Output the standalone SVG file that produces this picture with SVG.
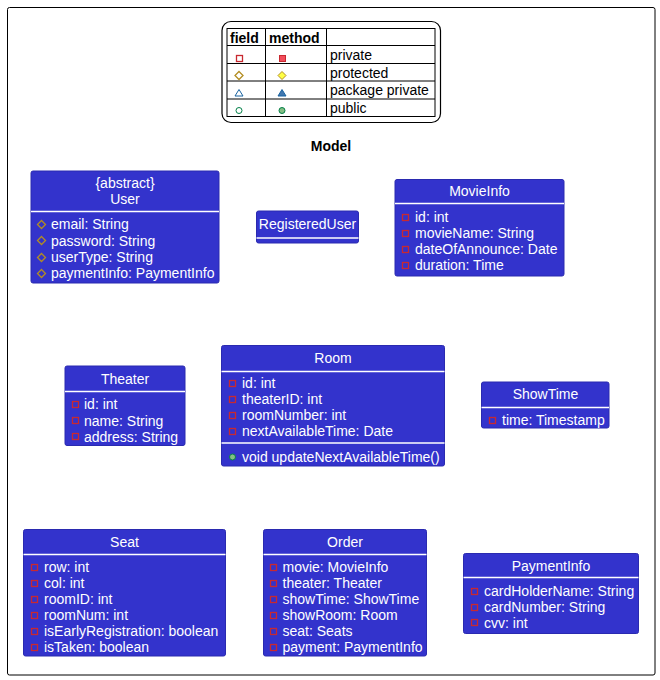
<svg xmlns="http://www.w3.org/2000/svg" width="660" height="680" viewBox="0 0 660 680">
<defs>
<style>
text{font-family:"Liberation Sans",Arial,sans-serif;font-size:14px}
.t{fill:#FFFFFF}
.c{text-anchor:middle}
.b{font-weight:bold}
.box{fill:#3333CC;stroke:#2A2AB0;stroke-width:1}
.sep{stroke:#FFFFFF;stroke-width:1.5}
.pf{fill:none;stroke:#C82930;stroke-width:1.3}
.pm{fill:#F24D5C;stroke:#C82930;stroke-width:1}
.df{fill:none;stroke:#B38D22;stroke-width:1.3}
.dm{fill:#FFFF44;stroke:#B38D22;stroke-width:1}
.tf{fill:none;stroke:#1963A0;stroke-width:1}
.tm{fill:#4177AF;stroke:#1963A0;stroke-width:1}
.cf{fill:none;stroke:#038048;stroke-width:1}
.cm{fill:#84BE84;stroke:#038048;stroke-width:1}
.ln{stroke:#000;stroke-width:1}
</style>
<rect id="pv" class="pf" x="-3" y="-3" width="6" height="6"/>
<path id="pt" class="df" d="M0,-4 L4,0 L0,4 L-4,0 Z"/>
</defs>
<rect x="7.5" y="7.5" width="647.5" height="667.5" rx="2" fill="none" stroke="#000" stroke-width="1"/>

<g id="legend">
<rect x="222" y="21.5" width="218.5" height="101" rx="9" fill="#FFFFFF" stroke="#000" stroke-width="1.2"/>
<rect x="227" y="28.5" width="208" height="88" fill="none" class="ln"/>
<line class="ln" x1="227" y1="45.5" x2="435" y2="45.5"/>
<line class="ln" x1="227" y1="63.5" x2="435" y2="63.5"/>
<line class="ln" x1="227" y1="81" x2="435" y2="81"/>
<line class="ln" x1="227" y1="99" x2="435" y2="99"/>
<line class="ln" x1="265.5" y1="28.5" x2="265.5" y2="116.5"/>
<line class="ln" x1="326.5" y1="28.5" x2="326.5" y2="116.5"/>
<text class="b" x="230" y="43">field</text>
<text class="b" x="269" y="43">method</text>
<text x="330" y="60">private</text>
<text x="330" y="77.5">protected</text>
<text x="330" y="95">package private</text>
<text x="330" y="112.5">public</text>
<rect class="pf" x="236.5" y="55.5" width="6" height="6"/>
<rect class="pm" x="279.5" y="55.5" width="6" height="6"/>
<path class="df" d="M239,71.5 L243,75.5 L239,79.5 L235,75.5 Z"/>
<path class="dm" d="M282,71.5 L286,75.5 L282,79.5 L278,75.5 Z"/>
<path class="tf" d="M239,89.5 L243,96 L235,96 Z"/>
<path class="tm" d="M282,89.5 L286,96 L278,96 Z"/>
<circle class="cf" cx="239" cy="110.5" r="3"/>
<circle class="cm" cx="282" cy="110.5" r="3"/>
</g>

<text class="b c" x="331" y="151">Model</text>

<g id="User">
<rect class="box" x="31" y="171" width="188" height="112" rx="2"/>
<line class="sep" x1="31" y1="211.5" x2="219" y2="211.5"/>
<text class="t c" x="125" y="188">{abstract}</text>
<text class="t c" x="125" y="204">User</text>
<use href="#pt" x="41.5" y="224.5"/>
<use href="#pt" x="41.5" y="240.5"/>
<use href="#pt" x="41.5" y="257.5"/>
<use href="#pt" x="41.5" y="273.5"/>
<text class="t" x="51" y="229">email: String</text>
<text class="t" x="51" y="245.5">password: String</text>
<text class="t" x="51" y="262">userType: String</text>
<text class="t" x="51" y="278">paymentInfo: PaymentInfo</text>
</g>

<g id="RegisteredUser">
<rect class="box" x="256.5" y="211" width="102" height="32" rx="2"/>
<line class="sep" x1="256.5" y1="238" x2="358.5" y2="238"/>
<text class="t c" x="307.5" y="229">RegisteredUser</text>
</g>

<g id="MovieInfo">
<rect class="box" x="395" y="179.5" width="169" height="96.5" rx="2"/>
<line class="sep" x1="395" y1="203.5" x2="564" y2="203.5"/>
<text class="t c" x="479.5" y="196">MovieInfo</text>
<use href="#pv" x="405.5" y="217.5"/>
<use href="#pv" x="405.5" y="233.5"/>
<use href="#pv" x="405.5" y="249.5"/>
<use href="#pv" x="405.5" y="265.5"/>
<text class="t" x="415" y="222">id: int</text>
<text class="t" x="415" y="238">movieName: String</text>
<text class="t" x="415" y="254">dateOfAnnounce: Date</text>
<text class="t" x="415" y="270">duration: Time</text>
</g>

<g id="Theater">
<rect class="box" x="65" y="366" width="120" height="79.5" rx="2"/>
<line class="sep" x1="65" y1="391.5" x2="185" y2="391.5"/>
<text class="t c" x="125" y="383.5">Theater</text>
<use href="#pv" x="75.5" y="404.5"/>
<use href="#pv" x="75.5" y="420.5"/>
<use href="#pv" x="75.5" y="436.5"/>
<text class="t" x="84" y="409">id: int</text>
<text class="t" x="84" y="425.5">name: String</text>
<text class="t" x="84" y="441.5">address: String</text>
</g>

<g id="Room">
<rect class="box" x="221.5" y="345.5" width="223" height="120.5" rx="2"/>
<line class="sep" x1="221.5" y1="371.5" x2="444.5" y2="371.5"/>
<line class="sep" x1="221.5" y1="443" x2="444.5" y2="443"/>
<text class="t c" x="333" y="363">Room</text>
<use href="#pv" x="232.5" y="383.5"/>
<use href="#pv" x="232.5" y="399.5"/>
<use href="#pv" x="232.5" y="415.5"/>
<use href="#pv" x="232.5" y="431.5"/>
<text class="t" x="242" y="388">id: int</text>
<text class="t" x="242" y="404">theaterID: int</text>
<text class="t" x="242" y="420">roomNumber: int</text>
<text class="t" x="242" y="436">nextAvailableTime: Date</text>
<circle class="cm" cx="232.5" cy="457" r="3"/>
<text class="t" x="242" y="461.5">void updateNextAvailableTime()</text>
</g>

<g id="ShowTime">
<rect class="box" x="481.5" y="382" width="127.5" height="46" rx="2"/>
<line class="sep" x1="481.5" y1="407.5" x2="609" y2="407.5"/>
<text class="t c" x="545.5" y="399">ShowTime</text>
<use href="#pv" x="492.5" y="420.5"/>
<text class="t" x="502" y="424.5">time: Timestamp</text>
</g>

<g id="Seat">
<rect class="box" x="23.5" y="529.5" width="202" height="126.5" rx="2"/>
<line class="sep" x1="23.5" y1="554.5" x2="225.5" y2="554.5"/>
<text class="t c" x="124.5" y="546.5">Seat</text>
<use href="#pv" x="34.5" y="567.5"/>
<use href="#pv" x="34.5" y="583.5"/>
<use href="#pv" x="34.5" y="599.5"/>
<use href="#pv" x="34.5" y="615.5"/>
<use href="#pv" x="34.5" y="631.5"/>
<use href="#pv" x="34.5" y="647.5"/>
<text class="t" x="44" y="571.5">row: int</text>
<text class="t" x="44" y="587.5">col: int</text>
<text class="t" x="44" y="603.5">roomID: int</text>
<text class="t" x="44" y="619.5">roomNum: int</text>
<text class="t" x="44" y="635.5">isEarlyRegistration: boolean</text>
<text class="t" x="44" y="651.5">isTaken: boolean</text>
</g>

<g id="Order">
<rect class="box" x="263.5" y="529.5" width="163" height="126.5" rx="2"/>
<line class="sep" x1="263.5" y1="554.5" x2="426.5" y2="554.5"/>
<text class="t c" x="345" y="546.5">Order</text>
<use href="#pv" x="273.5" y="567.5"/>
<use href="#pv" x="273.5" y="583.5"/>
<use href="#pv" x="273.5" y="599.5"/>
<use href="#pv" x="273.5" y="615.5"/>
<use href="#pv" x="273.5" y="631.5"/>
<use href="#pv" x="273.5" y="647.5"/>
<text class="t" x="282.5" y="571.5">movie: MovieInfo</text>
<text class="t" x="282.5" y="587.5">theater: Theater</text>
<text class="t" x="282.5" y="603.5">showTime: ShowTime</text>
<text class="t" x="282.5" y="619.5">showRoom: Room</text>
<text class="t" x="282.5" y="635.5">seat: Seats</text>
<text class="t" x="282.5" y="651.5">payment: PaymentInfo</text>
</g>

<g id="PaymentInfo">
<rect class="box" x="463.5" y="553.5" width="175" height="80" rx="2"/>
<line class="sep" x1="463.5" y1="577.5" x2="638.5" y2="577.5"/>
<text class="t c" x="551" y="570.5">PaymentInfo</text>
<use href="#pv" x="474.5" y="591.5"/>
<use href="#pv" x="474.5" y="607.5"/>
<use href="#pv" x="474.5" y="622.5"/>
<text class="t" x="484" y="596">cardHolderName: String</text>
<text class="t" x="484" y="612">cardNumber: String</text>
<text class="t" x="484" y="627.5">cvv: int</text>
</g>

<g id="connectors"></g>
</svg>
